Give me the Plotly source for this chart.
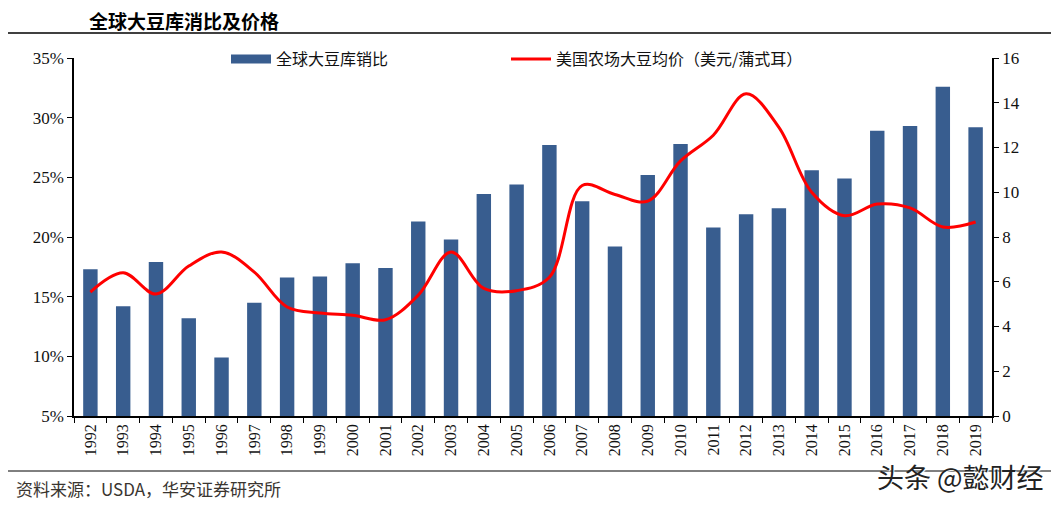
import plotly.graph_objects as go

years = [str(y) for y in range(1992, 2020)]
ratio = [17.3, 14.2, 17.9, 13.2, 9.9, 14.5, 16.6, 16.7, 17.8, 17.4, 21.3, 19.8, 23.6, 24.4,
         27.7, 23.0, 19.2, 25.2, 27.8, 20.8, 21.9, 22.4, 25.6, 24.9, 28.9, 29.3, 32.6, 29.2]
price = [5.54, 6.4, 5.45, 6.7, 7.33, 6.43, 4.87, 4.6, 4.5, 4.3, 5.4, 7.33, 5.7, 5.6,
         6.2, 10.3, 9.9, 9.6, 11.4, 12.55, 14.4, 12.9, 10.0, 8.95, 9.47, 9.3, 8.45, 8.67]

ratio_frac = [v / 100 for v in ratio]

BAR_COLOR = "#385D8F"

# page has an 8px body margin; work in reference-pixel coordinates and shift
OFF = 8
W, H = 1059 - OFF, 505 - OFF
PL, PR, PT, PB = 74, 992, 58, 416          # plot box in reference pixels
ML, MT = PL - OFF, PT - OFF
MR, MB = W - (PR - OFF), H - (PB - OFF)
PW, PH = PR - PL, PB - PT

def px(x):
    return (x - PL) / PW

def py(y):
    return (PB - y) / PH

serif = "Liberation Serif, Times New Roman, serif"
cjk = "Noto Sans CJK SC"

legend_common = dict(orientation="h", xanchor="left", yanchor="middle",
                     font=dict(family=cjk, size=16, color="#111"),
                     bgcolor="rgba(0,0,0,0)", itemwidth=40)

fig = go.Figure()
fig.add_trace(go.Bar(x=years, y=ratio_frac, name="全球大豆库销比", showlegend=False,
                     marker=dict(color=BAR_COLOR, line=dict(width=0)), width=0.44))
# legend swatch for the bars (wide rectangle as in the reference)
fig.add_trace(go.Scatter(x=[None], y=[None], name="全球大豆库销比", mode="lines",
                         line=dict(color=BAR_COLOR, width=9), showlegend=True, legend="legend"))
fig.add_trace(go.Scatter(x=years, y=price, name="美国农场大豆均价（美元/蒲式耳）", yaxis="y2",
                         mode="lines", line=dict(color="#FF0000", width=3, shape="spline", smoothing=1.0),
                         legend="legend2"))

fig.update_layout(
    width=W, height=H,
    margin=dict(l=ML, r=MR, t=MT, b=MB, pad=0),
    paper_bgcolor="white", plot_bgcolor="white",
    showlegend=True,
    legend=dict(x=px(226), y=py(59), **legend_common),
    legend2=dict(x=px(506), y=py(59), **legend_common),
    xaxis=dict(type="category", showline=True, linecolor="black", linewidth=1.5,
               ticks="outside", ticklen=5, tickcolor="black", tickson="boundaries",
               tickangle=-90, tickfont=dict(family=serif, size=16, color="#111"),
               showgrid=False, zeroline=False, mirror=False),
    yaxis=dict(range=[0.05, 0.35], dtick=0.05, tick0=0.05, tickformat=".0%",
               showline=True, linecolor="black", linewidth=1.5, ticks="outside",
               ticklen=5, tickcolor="black", showgrid=False, zeroline=False,
               tickfont=dict(family=serif, size=17, color="#111")),
    yaxis2=dict(range=[0, 16], dtick=2, overlaying="y", side="right",
                showline=True, linecolor="black", linewidth=1.5, ticks="outside",
                ticklen=5, tickcolor="black", showgrid=False, zeroline=False,
                tickfont=dict(family=serif, size=17, color="#111")),
    shapes=[
        dict(type="line", xref="paper", yref="paper", x0=px(0), x1=px(1059), y0=py(33), y1=py(33),
             line=dict(color="black", width=1.5), layer="below"),
        dict(type="line", xref="paper", yref="paper", x0=px(0), x1=px(1059), y0=py(471), y1=py(471),
             line=dict(color="black", width=1), layer="below"),
    ],
    annotations=[
        dict(text="<b>全球大豆库消比及价格</b>", xref="paper", yref="paper", x=px(88), y=py(21),
             xanchor="left", yanchor="middle", showarrow=False, borderpad=0,
             font=dict(family=cjk, size=19, color="black")),
        dict(text="资料来源：USDA，华安证券研究所", xref="paper", yref="paper", x=px(14), y=py(488),
             xanchor="left", yanchor="middle", showarrow=False,
             font=dict(family=cjk, size=17, color="#3a3530")),
        dict(text="头条 @懿财经", xref="paper", yref="paper", x=px(1046), y=py(476),
             xanchor="right", yanchor="middle", showarrow=False,
             font=dict(family=cjk, size=27, color="#222", shadow="1px 1px 1px white")),
    ],
)

fig.write_html("out.html")
